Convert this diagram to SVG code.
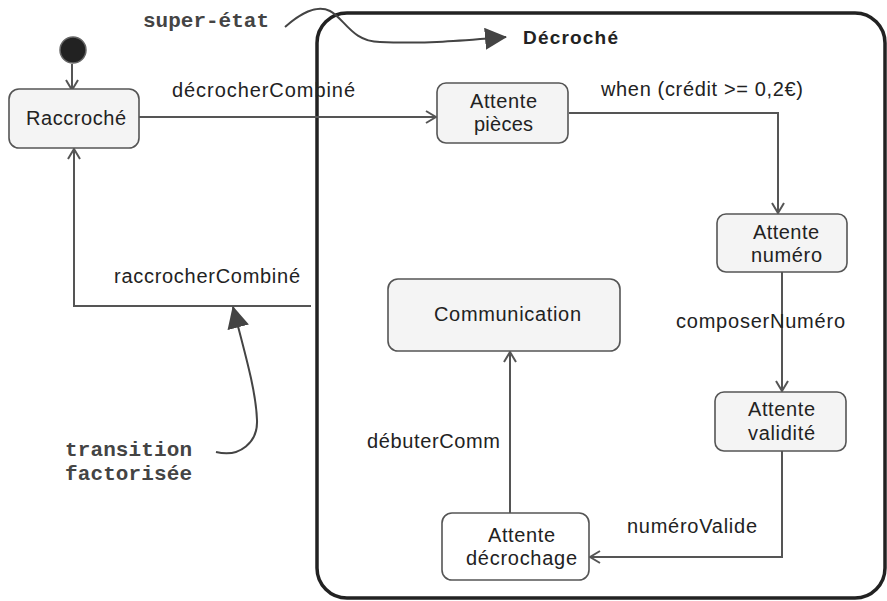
<svg xmlns="http://www.w3.org/2000/svg" width="887" height="601" viewBox="0 0 887 601">
<style>
.box{fill:#f4f4f4;stroke:#555;stroke-width:1.6}
.wbox{fill:#fff;stroke:#555;stroke-width:1.6}
.t{font-family:"Liberation Sans",Arial,sans-serif;font-size:20px;fill:#222}
.b{font-family:"Liberation Sans",Arial,sans-serif;font-size:19px;font-weight:bold;fill:#222}
.m{font-family:"Liberation Mono","Courier New",monospace;font-size:21px;font-weight:bold;fill:#444}
.c{fill:none;stroke:#555;stroke-width:2}
.n{fill:none;stroke:#444;stroke-width:2}
</style>
<defs>
<marker id="open" viewBox="0 0 12 14" refX="11" refY="7" markerWidth="12" markerHeight="14" markerUnits="userSpaceOnUse" orient="auto">
<path d="M1,1 L11,7 L1,13" fill="none" stroke="#555" stroke-width="2"/>
</marker>
<marker id="fill" viewBox="0 0 22 22" refX="21" refY="11" markerWidth="22" markerHeight="22" markerUnits="userSpaceOnUse" orient="auto">
<path d="M0,0 L22,11 L0,22 Z" fill="#444"/>
</marker>
</defs>

<g id="superstate">
<rect x="317" y="13" width="568" height="585" rx="30" ry="30" fill="none" stroke="#222" stroke-width="3.5"/>
<text class="b" x="523" y="44" textLength="95" lengthAdjust="spacing">Décroché</text>
</g>

<g id="connectors">
<line class="c" x1="72" y1="64" x2="72" y2="90" marker-end="url(#open)"/>
<line class="c" x1="139" y1="117" x2="436" y2="117" marker-end="url(#open)"/>
<polyline class="c" points="569,113 778,113 778,213" marker-end="url(#open)"/>
<line class="c" x1="782" y1="272" x2="782" y2="391" marker-end="url(#open)"/>
<polyline class="c" points="782,451 782,557 590,557" marker-end="url(#open)"/>
<line class="c" x1="510" y1="513" x2="510" y2="352" marker-end="url(#open)"/>
<polyline class="c" points="311,306 74,306 74,149" marker-end="url(#open)"/>
<text class="t" x="172" y="97" textLength="183" lengthAdjust="spacing">décrocherCombiné</text>
<text class="t" x="601" y="96" textLength="202" lengthAdjust="spacing">when (crédit &gt;= 0,2€)</text>
<text class="t" x="676" y="328" textLength="169" lengthAdjust="spacing">composerNuméro</text>
<text class="t" x="627" y="533" textLength="130" lengthAdjust="spacing">numéroValide</text>
<text class="t" x="367" y="448" textLength="133" lengthAdjust="spacing">débuterComm</text>
<text class="t" x="114" y="283" textLength="186" lengthAdjust="spacing">raccrocherCombiné</text>
</g>

<g id="initial">
<circle cx="73" cy="50" r="13" fill="#222" stroke="#666" stroke-width="1.5"/>
</g>

<g id="raccroche">
<rect class="box" x="9" y="89" width="130" height="59" rx="10"/>
<text class="t" x="26" y="125" textLength="100" lengthAdjust="spacing">Raccroché</text>
</g>

<g id="attente-pieces">
<rect class="box" x="437" y="83" width="131" height="60" rx="9"/>
<text class="t" x="470" y="108" textLength="67" lengthAdjust="spacing">Attente</text>
<text class="t" x="474" y="131" textLength="59" lengthAdjust="spacing">pièces</text>
</g>

<g id="attente-numero">
<rect class="box" x="717" y="214" width="130" height="58" rx="9"/>
<text class="t" x="753" y="239" textLength="66" lengthAdjust="spacing">Attente</text>
<text class="t" x="751" y="262" textLength="71" lengthAdjust="spacing">numéro</text>
</g>

<g id="attente-validite">
<rect class="box" x="715" y="392" width="131" height="59" rx="9"/>
<text class="t" x="748" y="416" textLength="67" lengthAdjust="spacing">Attente</text>
<text class="t" x="748" y="440" textLength="67" lengthAdjust="spacing">validité</text>
</g>

<g id="communication">
<rect class="box" x="388" y="279" width="232" height="72" rx="10"/>
<text class="t" x="434" y="321" textLength="147" lengthAdjust="spacing">Communication</text>
</g>

<g id="attente-decrochage">
<rect class="wbox" x="442" y="513" width="147" height="67" rx="10"/>
<text class="t" x="488" y="542" textLength="67" lengthAdjust="spacing">Attente</text>
<text class="t" x="466" y="565" textLength="111" lengthAdjust="spacing">décrochage</text>
</g>

<g id="note-super-etat">
<text class="m" x="143" y="27" textLength="126" lengthAdjust="spacing">super-état</text>
<path class="n" d="M285,27 C300,14 316,4 330,11 C344,18 352,42 380,42 C430,44 470,40 506,37" marker-end="url(#fill)"/>
</g>

<g id="note-transition">
<text class="m" x="65" y="456" textLength="127" lengthAdjust="spacing">transition</text>
<text class="m" x="65" y="480" textLength="127" lengthAdjust="spacing">factorisée</text>
<path class="n" d="M216,452 C240,458 258,442 257,420 C256,390 244,350 233,307" marker-end="url(#fill)"/>
</g>
</svg>
